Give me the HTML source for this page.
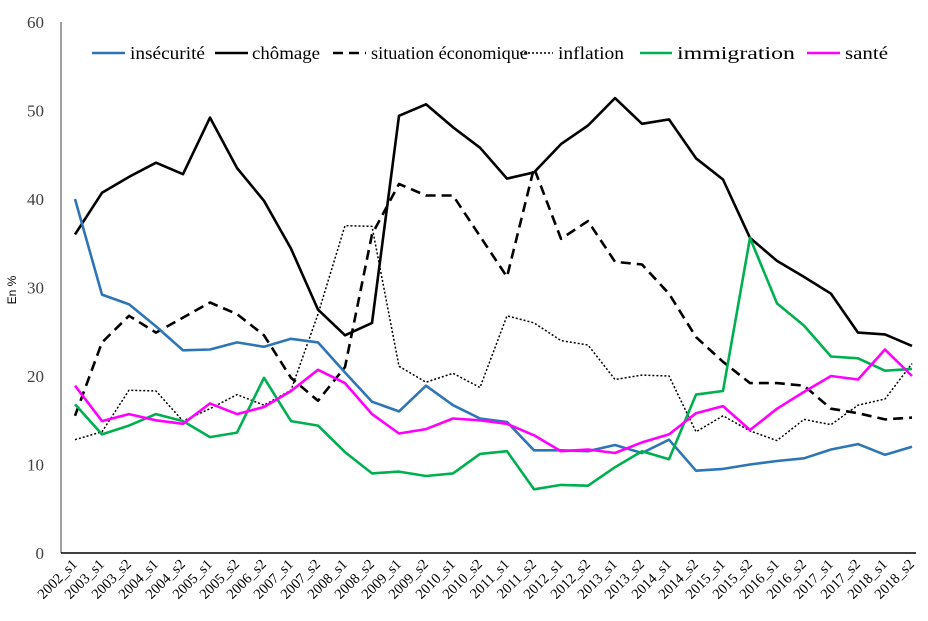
<!DOCTYPE html>
<html><head><meta charset="utf-8"><style>body{margin:0;background:#fff}svg{display:block}</style></head>
<body>
<svg id="c" width="928" height="621" xmlns="http://www.w3.org/2000/svg" font-family="Liberation Serif, serif">
<g id="yt" font-size="17" fill="#404040" text-anchor="end"></g>
<text x="16" y="290" font-size="12" font-family="Liberation Sans, sans-serif" transform="rotate(-90 16 290)" text-anchor="middle">En %</text>
<line x1="61" y1="22" x2="61" y2="553" stroke="#808080" stroke-width="1.5"/>
<line x1="61" y1="553" x2="916" y2="553" stroke="#000" stroke-width="1.5"/>
<g id="xt" font-size="14.5" fill="#000"></g>
<g id="ser" fill="none" stroke-width="2.6" stroke-linejoin="round"></g>
<g font-size="18" fill="#000">
<line x1="92" y1="53" x2="125" y2="53" stroke="#2e75b6" stroke-width="2.6"/><text x="130" y="59" textLength="75" lengthAdjust="spacingAndGlyphs">insécurité</text>
<line x1="215" y1="53" x2="248" y2="53" stroke="#000" stroke-width="2.6"/><text x="252" y="59" textLength="68" lengthAdjust="spacingAndGlyphs">chômage</text>
<line x1="333" y1="53" x2="366" y2="53" stroke="#000" stroke-width="2.6" stroke-dasharray="10,6"/><text x="371" y="59" textLength="157" lengthAdjust="spacingAndGlyphs">situation économique</text>
<line x1="520" y1="53" x2="553" y2="53" stroke="#000" stroke-width="1.5" stroke-dasharray="2,2"/><text x="558" y="59" textLength="66" lengthAdjust="spacingAndGlyphs">inflation</text>
<line x1="640" y1="53" x2="672" y2="53" stroke="#00b050" stroke-width="2.6"/><text x="677" y="59" textLength="118" lengthAdjust="spacingAndGlyphs">immigration</text>
<line x1="807" y1="53" x2="840" y2="53" stroke="#ff00ff" stroke-width="2.6"/><text x="845" y="59" textLength="43" lengthAdjust="spacingAndGlyphs">santé</text>
</g>
</svg>
<script>
const NS="http://www.w3.org/2000/svg";
const Y=v=>553-v*8.85, X=i=>75+27*i;
const yt=document.getElementById('yt');
for(let v=0;v<=60;v+=10){const t=document.createElementNS(NS,'text');t.setAttribute('x',44);t.setAttribute('y',Y(v)+6);t.textContent=v;yt.appendChild(t);}
const labs="2002_s1 2003_s1 2003_s2 2004_s1 2004_s2 2005_s1 2005_s2 2006_s2 2007_s1 2007_s2 2008_s1 2008_s2 2009_s1 2009_s2 2010_s1 2010_s2 2011_s1 2011_s2 2012_s1 2012_s2 2013_s1 2013_s2 2014_s1 2014_s2 2015_s1 2015_s2 2016_s1 2016_s2 2017_s1 2017_s2 2018_s1 2018_s2".split(' ');
const xt=document.getElementById('xt');
labs.forEach((l,i)=>{const x=X(i)+3,y=565;const t=document.createElementNS(NS,'text');t.setAttribute('x',x);t.setAttribute('y',y);t.setAttribute('text-anchor','end');t.setAttribute('transform',`rotate(-45 ${x} ${y})`);t.textContent=l;xt.appendChild(t);});
const S=[
["#000","",2.6,[36,40.7,42.5,44.1,42.8,49.2,43.5,39.8,34.4,27.5,24.6,26,49.4,50.7,48.1,45.8,42.3,43,46.2,48.3,51.4,48.5,49,44.6,42.2,35.6,33,31.2,29.3,24.9,24.7,23.4]],
["#000","10,6",2.6,[15.5,23.8,26.8,24.9,26.6,28.3,27,24.6,19.8,17.2,21,36,41.7,40.4,40.4,35.8,31.2,43.5,35.5,37.5,32.9,32.6,29.3,24.4,21.6,19.2,19.2,18.9,16.3,15.8,15.1,15.3]],
["#000","2,2",1.5,[12.8,13.7,18.4,18.3,14.9,16.3,17.9,16.7,18.4,27,37,36.9,21.1,19.3,20.3,18.7,26.8,26,24,23.5,19.6,20.1,20,13.7,15.5,13.8,12.7,15.1,14.5,16.7,17.4,21.4]],
["#2e75b6","",2.6,[40,29.2,28.1,25.6,22.9,23,23.8,23.3,24.2,23.8,20.4,17.1,16,18.9,16.7,15.2,14.8,11.6,11.6,11.5,12.2,11.3,12.8,9.3,9.5,10,10.4,10.7,11.7,12.3,11.1,12]],
["#00b050","",2.6,[16.8,13.4,14.4,15.7,14.9,13.1,13.6,19.8,14.9,14.4,11.4,9,9.2,8.7,9,11.2,11.5,7.2,7.7,7.6,9.7,11.5,10.6,17.9,18.3,35.6,28.2,25.7,22.2,22,20.6,20.8]],
["#ff00ff","",2.6,[18.9,14.9,15.7,15,14.6,16.9,15.7,16.5,18.3,20.7,19.2,15.7,13.5,14,15.2,15,14.6,13.3,11.5,11.7,11.3,12.5,13.4,15.8,16.6,13.9,16.3,18.2,20,19.6,23,20]]];
const g=document.getElementById('ser');
S.forEach(([c,d,w,a])=>{const p=document.createElementNS(NS,'polyline');p.setAttribute('points',a.map((v,i)=>X(i)+','+Y(v).toFixed(1)).join(' '));p.setAttribute('stroke',c);p.setAttribute('stroke-width',w);if(d)p.setAttribute('stroke-dasharray',d);g.appendChild(p);});
</script>
</body></html>
